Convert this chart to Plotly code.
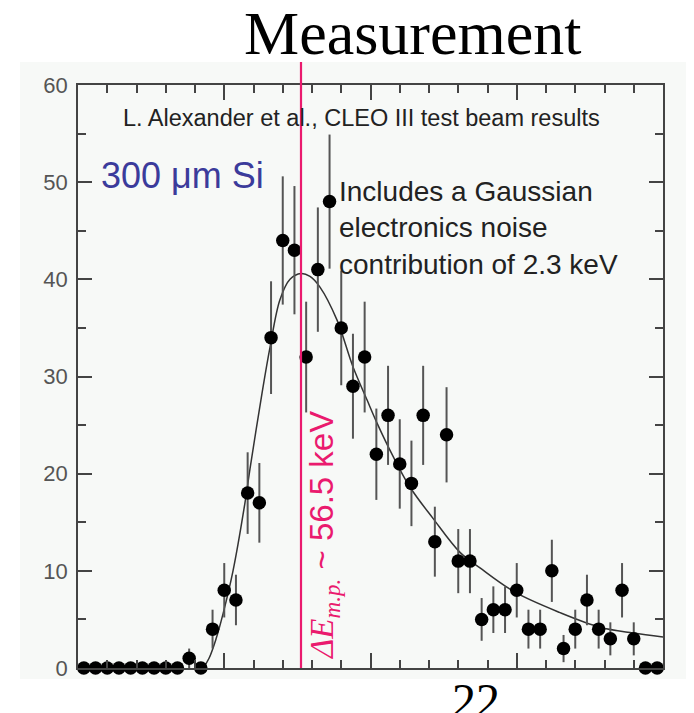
import plotly.graph_objects as go

# ---- data ----
bin_centers = [i + 0.5 for i in range(50)]
counts = [0, 0, 0, 0, 0, 0, 0, 0, 0, 1,
          0, 4, 8, 7, 18, 17, 34, 44, 43, 32,
          41, 48, 35, 29, 32, 22, 26, 21, 19, 26,
          13, 24, 11, 11, 5, 6, 6, 8, 4, 4,
          10, 2, 4, 7, 4, 3, 8, 3, 0, 0]
errors = [0, 0, 0, 0, 0, 0, 0, 0, 0, 1.0,
          0, 2.0, 2.8, 2.6, 4.2, 4.1, 5.8, 6.6, 6.6, 5.7,
          6.4, 6.9, 5.9, 5.4, 5.7, 4.7, 5.1, 4.6, 4.4, 5.1,
          3.6, 4.9, 3.3, 3.3, 2.2, 2.4, 2.4, 2.8, 2.0, 2.0,
          3.2, 1.4, 2.0, 2.6, 2.0, 1.7, 2.8, 1.7, 0, 0]
fit_x = [10.7, 11.2, 11.8, 12.4, 13.25, 14.27, 14.7, 15.73, 16.41, 17.26,
         18.12, 19.06, 19.83, 20.68, 22.14, 23.5, 24.7, 25.56, 26.92, 28.38,
         30.34, 32.65, 34.36, 37.35, 41.2, 44.62, 47.44, 50.0]
fit_y = [0.0, 1.0, 3.0, 5.6, 10.0, 17.0, 20.5, 28.3, 33.0, 37.9,
         40.0, 40.6, 40.3, 39.2, 35.8, 31.0, 27.6, 25.2, 21.8, 18.6,
         15.4, 11.9, 10.3, 7.8, 5.7, 4.2, 3.6, 3.2]
mp_position = 19.06   # position of the most-probable-value marker line
y_ticks = [0, 10, 20, 30, 40, 50, 60]

# ---- layout helpers (page pixel -> paper) ----
OFF = 8                      # default body margin of the html page
W, H = 694 - OFF, 713 - OFF
L, R, T, B = 78 - OFF, 663 - OFF, 85 - OFF, 668 - OFF


def fx(px):
    return (px - OFF - L) / (R - L)


def fy(py):
    return (B - (py - OFF)) / (B - T)


PINK = "#ea1a6e"
SANS = "Liberation Sans, Arial, Helvetica, sans-serif"
SERIF = "Liberation Serif, Times New Roman, serif"

fig = go.Figure()

fig.add_trace(go.Scatter(
    x=fit_x, y=fit_y, mode="lines", line=dict(color="#333333", width=1.5, shape="spline"),
    hoverinfo="skip", showlegend=False, cliponaxis=False))

fig.add_trace(go.Scatter(
    x=bin_centers, y=counts, mode="markers",
    marker=dict(color="black", size=13.5),
    error_y=dict(type="data", array=errors, visible=True, color="#555555", thickness=2, width=0),
    showlegend=False, cliponaxis=False))

fig.update_layout(
    width=W, height=H,
    margin=dict(l=L, r=W - R, t=T, b=H - B),
    paper_bgcolor="white",
    plot_bgcolor="#f7f9f7",
    showlegend=False,
    xaxis=dict(range=[0, 50], showgrid=False, zeroline=False, showline=True,
               linecolor="#444444", linewidth=1.5, mirror="ticks",
               ticks="inside", tick0=0, dtick=12.5, ticklen=15, tickwidth=1.5, tickcolor="#444444",
               showticklabels=False,
               minor=dict(ticks="inside", tick0=0, dtick=2.5, ticklen=8, tickwidth=1.5, tickcolor="#444444")),
    yaxis=dict(range=[0, 60], showgrid=False, zeroline=False, showline=True,
               linecolor="#444444", linewidth=1.5, mirror="ticks",
               ticks="inside", tickvals=y_ticks, ticklen=14, tickwidth=1.5, tickcolor="#444444",
               tickfont=dict(family=SANS, size=22, color="#555555"), ticklabelstandoff=4,
               minor=dict(ticks="inside", tick0=0, dtick=5, ticklen=8, tickwidth=1.5, tickcolor="#444444")),
)

# light panel background extending beyond the axes
fig.add_shape(type="rect", xref="paper", yref="paper",
              x0=fx(20), x1=fx(686), y0=fy(679), y1=fy(62),
              fillcolor="#f7f9f7", line=dict(width=0), layer="below")

# most probable energy line
fig.add_shape(type="line", xref="x", yref="paper",
              x0=mp_position, x1=mp_position, y0=0, y1=fy(62),
              line=dict(color=PINK, width=2.2))

annotations = [
    dict(text="Measurement", x=fx(412), y=fy(33), xanchor="center", yanchor="middle",
         font=dict(family=SERIF, size=62, color="black")),
    dict(text="22", x=fx(476), y=fy(700), xanchor="center", yanchor="middle",
         font=dict(family=SERIF, size=48, color="black")),
    dict(text="L. Alexander et al., CLEO III test beam results", x=fx(361), y=fy(118),
         xanchor="center", yanchor="middle", font=dict(family=SANS, size=23.5, color="#222222")),
    dict(text="300 μm Si", x=fx(99), y=fy(176), xanchor="left", yanchor="middle",
         font=dict(family=SANS, size=36, color="#3b3b9b")),
    dict(text="Includes a Gaussian<br>electronics noise<br>contribution of 2.3 keV",
         x=fx(337), y=fy(228), xanchor="left", yanchor="middle", align="left",
         font=dict(family=SANS, size=28, color="#222222")),
    dict(text=("<span style=\"font-family:'Liberation Serif';font-style:italic\">ΔE</span>"
               "<sub><span style=\"font-family:'Liberation Serif';font-style:italic\">m.p.</span></sub>"
               " ~ 56.5 keV"),
         x=fx(324), y=fy(536), xanchor="center", yanchor="middle", textangle=-90,
         font=dict(family=SANS, size=33, color=PINK)),
]
for a in annotations:
    a.update(xref="paper", yref="paper", showarrow=False)
    fig.add_annotation(**a)

fig.write_html("out.html")
